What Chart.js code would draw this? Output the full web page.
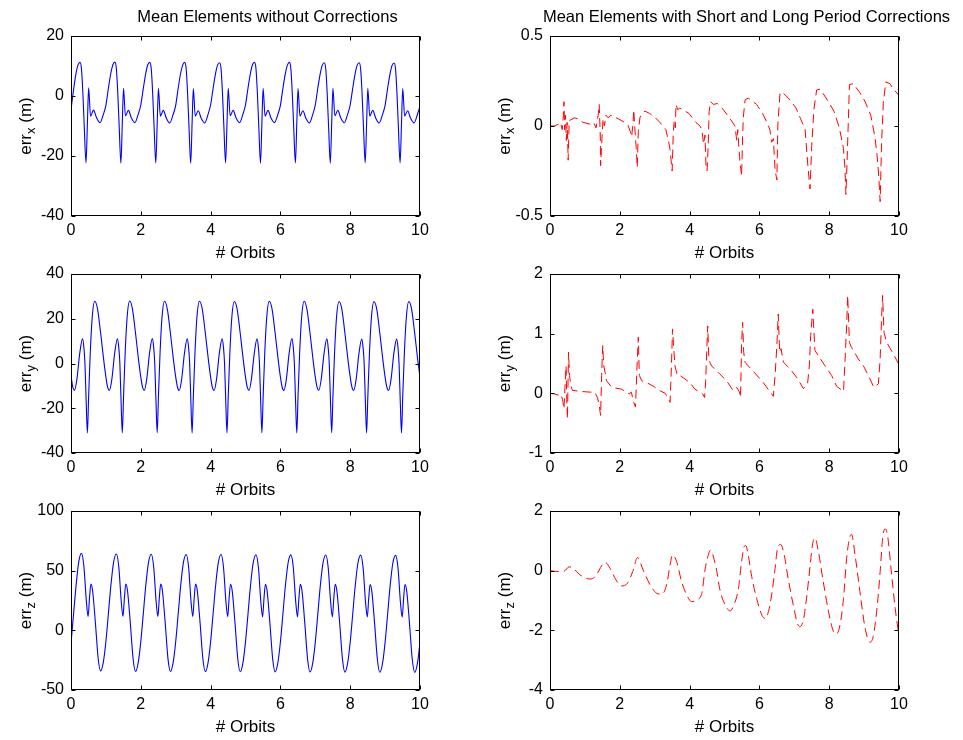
<!DOCTYPE html>
<html>
<head>
<meta charset="utf-8">
<script src="https://cdn.jsdelivr.net/npm/chart.js@4.4.1/dist/chart.umd.min.js"></script>
<style>
  html, body { margin: 0; padding: 0; background: #fff; }
  body { width: 963px; height: 740px; position: relative; overflow: hidden; }
  canvas { position: absolute; }
</style>
</head>
<body>
<canvas id="c1"></canvas>
<canvas id="c2"></canvas>
<canvas id="c3"></canvas>
<canvas id="c4"></canvas>
<canvas id="c5"></canvas>
<canvas id="c6"></canvas>
<script>
// ---- data (x in orbits, y in metres) ----

// left column: mean elements without corrections
const leftX_x = [
  0,0.07,0.14,0.2,0.26,0.3,0.34,0.38,0.43,0.47,0.505,0.56,0.645,0.73,0.83,0.92,
  1,1.07,1.14,1.2,1.26,1.3,1.34,1.38,1.43,1.47,1.505,1.56,1.645,1.73,1.83,1.92,
  2,2.07,2.14,2.2,2.26,2.3,2.34,2.38,2.43,2.47,2.505,2.56,2.645,2.73,2.83,2.92,
  3,3.07,3.14,3.2,3.26,3.3,3.34,3.38,3.43,3.47,3.505,3.56,3.645,3.73,3.83,3.92,
  4,4.07,4.14,4.2,4.26,4.3,4.34,4.38,4.43,4.47,4.505,4.56,4.645,4.73,4.83,4.92,
  5,5.07,5.14,5.2,5.26,5.3,5.34,5.38,5.43,5.47,5.505,5.56,5.645,5.73,5.83,5.92,
  6,6.07,6.14,6.2,6.26,6.3,6.34,6.38,6.43,6.47,6.505,6.56,6.645,6.73,6.83,6.92,
  7,7.07,7.14,7.2,7.26,7.3,7.34,7.38,7.43,7.47,7.505,7.56,7.645,7.73,7.83,7.92,
  8,8.07,8.14,8.2,8.26,8.3,8.34,8.38,8.43,8.47,8.505,8.56,8.645,8.73,8.83,8.92,
  9,9.07,9.14,9.2,9.26,9.3,9.34,9.38,9.43,9.47,9.505,9.56,9.645,9.73,9.83,9.92,
  10
];
const leftX_y = [
  -4.6,1.8,7.3,10.3,11.2,9.0,1.0,-10.2,-22.3,-9.1,2.7,-6.7,-4.7,-7.2,-8.9,-6.4,
  -3.1,2.5,7.5,10.4,11.3,9.1,1.1,-10.0,-22.4,-9.0,2.6,-6.6,-4.8,-7.3,-8.9,-6.3,
  -3.0,2.4,7.4,10.4,11.2,9.0,1.0,-10.1,-22.3,-9.1,2.6,-6.7,-4.8,-7.3,-9.0,-6.4,
  -3.1,2.5,7.5,10.3,11.2,9.1,1.1,-10.0,-22.4,-9.0,2.5,-6.7,-4.9,-7.4,-9.0,-6.4,
  -3.0,2.4,7.4,10.3,11.1,9.0,1.0,-10.1,-22.3,-9.1,2.6,-6.6,-4.8,-7.3,-8.9,-6.3,
  -3.0,2.5,7.5,10.4,11.2,9.1,1.1,-10.0,-22.4,-9.0,2.6,-6.7,-4.8,-7.3,-8.9,-6.4,
  -3.1,2.4,7.4,10.3,11.2,9.0,1.0,-10.1,-22.3,-9.1,2.5,-6.7,-4.9,-7.4,-9.0,-6.4,
  -3.0,2.5,7.4,10.3,11.1,9.0,1.0,-10.0,-22.4,-9.0,2.6,-6.6,-4.8,-7.3,-8.9,-6.3,
  -3.0,2.4,7.4,10.3,11.1,8.9,0.9,-10.1,-22.3,-9.1,2.6,-6.7,-4.8,-7.3,-9.0,-6.4,
  -3.1,2.4,7.3,10.2,11.0,8.9,0.9,-10.1,-22.3,-9.1,2.5,-6.7,-4.9,-7.4,-9.0,-6.4,
  -3.4
];

const leftY_x = [
  0,0.05,0.1,0.17,0.25,0.33,0.37,0.4,0.435,0.47,0.505,0.55,0.61,0.68,0.76,0.85,0.93,
  1,1.05,1.1,1.17,1.25,1.33,1.37,1.4,1.435,1.47,1.505,1.55,1.61,1.68,1.76,1.85,1.93,
  2,2.05,2.1,2.17,2.25,2.33,2.37,2.4,2.435,2.47,2.505,2.55,2.61,2.68,2.76,2.85,2.93,
  3,3.05,3.1,3.17,3.25,3.33,3.37,3.4,3.435,3.47,3.505,3.55,3.61,3.68,3.76,3.85,3.93,
  4,4.05,4.1,4.17,4.25,4.33,4.37,4.4,4.435,4.47,4.505,4.55,4.61,4.68,4.76,4.85,4.93,
  5,5.05,5.1,5.17,5.25,5.33,5.37,5.4,5.435,5.47,5.505,5.55,5.61,5.68,5.76,5.85,5.93,
  6,6.05,6.1,6.17,6.25,6.33,6.37,6.4,6.435,6.47,6.505,6.55,6.61,6.68,6.76,6.85,6.93,
  7,7.05,7.1,7.17,7.25,7.33,7.37,7.4,7.435,7.47,7.505,7.55,7.61,7.68,7.76,7.85,7.93,
  8,8.05,8.1,8.17,8.25,8.33,8.37,8.4,8.435,8.47,8.505,8.55,8.61,8.68,8.76,8.85,8.93,
  9,9.05,9.1,9.17,9.25,9.33,9.37,9.4,9.435,9.47,9.505,9.55,9.61,9.68,9.76,9.85,9.93,
  10
];
const leftY_y = [
  -5.4,-10.5,-12.0,-7.0,4.5,11.0,7.0,0.0,-17.0,-31.0,-15.0,4.0,21.0,27.8,24.4,13.5,2.5,
  -6.0,-10.6,-12.1,-7.1,4.4,11.0,7.0,0.1,-17.1,-31.0,-15.1,4.0,21.0,27.9,24.4,13.4,2.4,
  -6.1,-10.6,-12.0,-7.0,4.5,11.1,7.1,0.0,-17.0,-30.9,-15.0,4.1,21.1,27.8,24.3,13.4,2.4,
  -6.0,-10.5,-12.1,-7.1,4.4,11.0,7.0,0.0,-17.1,-31.1,-15.1,4.0,21.0,27.8,24.4,13.5,2.5,
  -6.0,-10.6,-12.1,-7.0,4.5,11.0,7.0,0.0,-17.0,-31.0,-15.0,4.0,21.0,27.7,24.3,13.4,2.4,
  -6.1,-10.6,-12.0,-7.0,4.4,11.0,7.0,0.1,-17.0,-31.0,-15.1,4.0,21.0,27.8,24.4,13.5,2.5,
  -6.0,-10.5,-12.1,-7.1,4.5,11.1,7.1,0.0,-17.1,-31.0,-15.0,4.1,21.0,27.8,24.3,13.4,2.4,
  -6.1,-10.6,-12.0,-7.0,4.4,11.0,7.0,0.0,-17.0,-30.9,-15.0,4.0,21.0,27.7,24.3,13.4,2.4,
  -6.0,-10.6,-12.1,-7.1,4.4,10.9,6.9,0.0,-17.1,-31.0,-15.1,4.0,20.9,27.7,24.3,13.4,2.4,
  -6.1,-10.6,-12.1,-7.1,4.4,10.9,6.9,-0.1,-17.1,-31.0,-15.1,3.9,20.9,27.7,24.2,13.3,2.3,
  -6.0
];

const leftZ_x = [
  0,0.07,0.14,0.22,0.3,0.37,0.44,0.49,0.53,0.57,0.62,0.7,0.78,0.85,0.93,
  1,1.07,1.14,1.22,1.3,1.37,1.44,1.49,1.53,1.57,1.62,1.7,1.78,1.85,1.93,
  2,2.07,2.14,2.22,2.3,2.37,2.44,2.49,2.53,2.57,2.62,2.7,2.78,2.85,2.93,
  3,3.07,3.14,3.22,3.3,3.37,3.44,3.49,3.53,3.57,3.62,3.7,3.78,3.85,3.93,
  4,4.07,4.14,4.22,4.3,4.37,4.44,4.49,4.53,4.57,4.62,4.7,4.78,4.85,4.93,
  5,5.07,5.14,5.22,5.3,5.37,5.44,5.49,5.53,5.57,5.62,5.7,5.78,5.85,5.93,
  6,6.07,6.14,6.22,6.3,6.37,6.44,6.49,6.53,6.57,6.62,6.7,6.78,6.85,6.93,
  7,7.07,7.14,7.22,7.3,7.37,7.44,7.49,7.53,7.57,7.62,7.7,7.78,7.85,7.93,
  8,8.07,8.14,8.22,8.3,8.37,8.44,8.49,8.53,8.57,8.62,8.7,8.78,8.85,8.93,
  9,9.07,9.14,9.22,9.3,9.37,9.44,9.49,9.53,9.57,9.62,9.7,9.78,9.85,9.93,
  10
];
const leftZ_y = [
  -11.0,12.5,36.0,57.0,64.5,53.5,24.5,11.5,27.0,38.8,33.0,6.0,-24.0,-34.0,-26.0,
  -9.4,13.5,36.8,57.0,64.0,53.0,24.0,11.6,27.0,38.8,33.0,6.0,-24.0,-34.4,-26.4,
  -9.5,13.4,36.7,56.8,63.8,52.9,24.0,11.5,26.9,38.7,33.0,5.9,-24.1,-34.5,-26.5,
  -9.6,13.3,36.6,56.7,63.6,52.8,23.9,11.4,26.9,38.7,32.9,5.8,-24.2,-34.6,-26.6,
  -9.6,13.3,36.5,56.6,63.5,52.7,23.8,11.4,26.8,38.6,32.9,5.8,-24.2,-34.7,-26.6,
  -9.7,13.2,36.4,56.5,63.4,52.6,23.7,11.3,26.8,38.6,32.8,5.7,-24.3,-34.8,-26.7,
  -9.8,13.1,36.3,56.4,63.2,52.5,23.6,11.3,26.7,38.5,32.8,5.6,-24.4,-34.9,-26.8,
  -9.9,13.0,36.2,56.3,63.1,52.4,23.5,11.2,26.7,38.5,32.7,5.5,-24.5,-35.0,-26.9,
  -10.0,12.9,36.1,56.2,63.0,52.3,23.4,11.2,26.6,38.4,32.7,5.4,-24.6,-35.1,-27.0,
  -10.1,12.8,36.0,56.0,62.8,52.2,23.3,11.1,26.6,38.4,32.6,5.3,-24.7,-35.2,-27.1,
  -10.2
];

// right column: with short and long period corrections
const rightX_x = [
  0,0.12,0.24,0.3,0.35,0.38,0.4,0.42,0.44,0.47,0.49,0.51,0.52,0.55,0.6,0.7,0.8,0.95,
  1.15,1.25,1.32,1.38,1.41,1.44,1.45,1.48,1.52,1.56,1.6,1.67,1.74,1.96,
  2.22,2.3,2.34,2.38,2.4,2.44,2.47,2.5,2.53,2.58,2.72,2.85,3.0,
  3.15,3.23,3.32,3.4,3.44,3.5,3.53,3.56,3.59,3.61,3.66,3.72,3.98,
  4.18,4.3,4.35,4.4,4.44,4.47,4.5,4.53,4.56,4.6,4.68,4.8,4.97,
  5.16,5.3,5.35,5.38,5.43,5.49,5.52,5.54,5.59,5.68,5.92,
  6.09,6.23,6.3,6.35,6.4,6.45,6.5,6.53,6.59,6.64,6.83,
  7.05,7.18,7.31,7.36,7.4,7.45,7.5,7.56,7.64,7.74,7.98,
  8.14,8.29,8.41,8.45,8.48,8.52,8.58,8.69,8.88,
  9.03,9.19,9.31,9.37,9.42,9.46,9.5,9.55,9.62,9.74,9.82,10
];
const rightX_y = [
  0,0.0,0.01,0.02,-0.02,0.05,0.135,-0.02,0.06,-0.08,0.02,-0.105,-0.19,0.03,0.035,0.045,0.04,0.02,
  0.01,0.02,-0.01,0.06,0.12,-0.05,-0.22,-0.1,0.04,0.0,0.06,0.045,0.06,0.04,
  0.01,-0.03,-0.06,0.02,0.09,-0.04,-0.12,-0.23,-0.03,0.05,0.083,0.07,0.05,
  0.02,0.0,-0.02,-0.09,-0.13,-0.25,-0.05,0.03,-0.01,0.12,0.09,0.1,0.07,
  0.02,0.0,-0.02,-0.1,-0.05,-0.22,-0.25,-0.12,0.08,0.135,0.12,0.125,0.09,
  0.04,0.0,-0.08,-0.02,-0.17,-0.28,-0.05,0.05,0.145,0.155,0.12,
  0.07,0.015,-0.02,-0.09,-0.07,-0.245,-0.3,0.015,0.18,0.19,0.155,
  0.1,0.04,-0.02,-0.15,-0.245,-0.35,-0.11,0.09,0.2,0.205,0.135,
  0.08,-0.01,-0.125,-0.23,-0.38,-0.15,0.23,0.235,0.185,
  0.135,0.06,-0.06,-0.16,-0.28,-0.42,-0.1,0.125,0.245,0.235,0.21,0.17
];

const rightY_x = [
  0,0.12,0.24,0.3,0.36,0.4,0.43,0.46,0.48,0.5,0.53,0.56,0.59,0.64,0.91,
  1.15,1.28,1.36,1.41,1.45,1.48,1.51,1.54,1.58,1.62,1.77,2.05,
  2.27,2.33,2.4,2.45,2.49,2.53,2.56,2.63,2.77,2.96,
  3.15,3.3,3.38,3.44,3.48,3.51,3.54,3.58,3.65,3.72,4.01,
  4.15,4.37,4.43,4.46,4.49,4.52,4.55,4.58,4.63,4.87,
  5.06,5.25,5.35,5.43,5.46,5.49,5.52,5.55,5.59,5.71,5.87,
  6.11,6.26,6.4,6.45,6.5,6.54,6.58,6.62,6.69,6.88,
  7.09,7.26,7.38,7.43,7.47,7.53,7.59,7.69,7.88,
  8.07,8.21,8.41,8.45,8.5,8.53,8.58,8.64,8.83,
  9.0,9.17,9.28,9.41,9.46,9.5,9.53,9.57,9.65,9.82,10
];
const rightY_y = [
  0,-0.01,-0.03,-0.01,-0.1,-0.26,0.1,0.46,-0.1,-0.43,0.69,0.3,0.16,0.05,0.03,
  0.02,0.02,-0.07,-0.2,-0.37,0.3,0.8,0.46,0.35,0.21,0.1,0.07,
  -0.01,0.02,-0.15,-0.23,0.4,0.94,0.3,0.21,0.18,0.12,
  0.045,0.0,-0.07,-0.15,0.46,1.08,0.8,0.46,0.3,0.3,0.18,
  0.07,-0.01,-0.07,0.2,0.69,1.13,0.6,0.52,0.46,0.32,
  0.21,0.045,0.1,0.02,-0.07,0.85,1.19,0.69,0.52,0.44,0.34,
  0.18,0.06,-0.05,0.3,0.8,1.33,0.69,0.75,0.52,0.41,
  0.25,0.08,0.16,0.46,0.97,1.41,0.72,0.63,0.46,
  0.3,0.12,0.03,0.52,1.13,1.64,0.85,0.77,0.58,
  0.44,0.24,0.1,0.16,0.58,1.25,1.64,1.02,0.85,0.68,0.48
];

const rightZ_x = [
  0,0.24,0.4,0.55,0.67,0.8,0.91,1.15,1.29,1.41,1.5,1.58,1.72,1.89,
  2.05,2.22,2.37,2.51,2.67,2.87,3.06,3.2,3.34,3.44,3.51,3.63,3.77,3.92,
  4.06,4.2,4.35,4.44,4.51,4.6,4.73,4.78,4.87,5.02,5.16,5.27,5.4,5.49,5.56,5.61,5.68,5.78,5.92,
  6.07,6.16,6.26,6.35,6.45,6.51,6.61,6.71,6.83,6.97,
  7.09,7.16,7.26,7.35,7.45,7.52,7.59,7.69,7.83,7.98,
  8.12,8.2,8.31,8.41,8.5,8.58,8.64,8.74,8.88,
  9.03,9.17,9.26,9.36,9.46,9.53,9.6,9.67,9.79,9.89,10
];
const rightZ_y = [
  0,-0.03,-0.02,0.13,0.08,-0.08,-0.18,-0.28,-0.2,0.02,0.2,0.28,0.08,-0.31,
  -0.51,-0.42,-0.03,0.44,0.02,-0.48,-0.76,-0.79,-0.48,0.19,0.53,0.3,-0.37,-0.82,
  -1.04,-0.98,-0.76,0.02,0.41,0.69,0.25,-0.03,-0.65,-1.15,-1.35,-1.15,-0.59,0.3,0.8,0.84,0.53,-0.2,-0.93,
  -1.49,-1.6,-1.37,-0.82,0.08,0.69,0.88,0.53,-0.31,-1.15,
  -1.77,-1.88,-1.65,-0.93,0.13,0.86,1.1,0.64,-0.37,-1.37,
  -2.04,-2.13,-1.82,-0.93,0.41,1.08,1.22,0.53,-0.7,
  -1.93,-2.4,-2.21,-1.37,-0.03,1.08,1.4,1.2,-0.15,-1.26,-2.2
];

const xTicks = [0, 2, 4, 6, 8, 10];
const titles = ['Mean Elements without Corrections', 'Mean Elements with Short and Long Period Corrections'];

// ---- drawing ----
const FONT = "'Liberation Sans', Arial, Helvetica, sans-serif";
Chart.defaults.font.family = FONT;
Chart.defaults.font.size = 16;
Chart.defaults.color = '#000';

// MATLAB style box: frame, inward ticks on all four sides, y label with subscript, title
const matlabBox = {
    id: 'matlabBox',
    afterDraw(chart, args, opts) {
        const {ctx, chartArea: a, scales} = chart;
        ctx.save();
        ctx.strokeStyle = '#000';
        ctx.lineWidth = 1;
        const l = Math.round(a.left) + 0.5, r = Math.round(a.right) - 0.5;
        const t = Math.round(a.top) + 0.5, b = Math.round(a.bottom) - 0.5;
        ctx.strokeRect(l, t, r - l, b - t);
        const tl = 4;
        ctx.beginPath();
        scales.x.ticks.forEach(tk => {
            const px = Math.round(scales.x.getPixelForValue(tk.value)) + 0.5;
            ctx.moveTo(px, b); ctx.lineTo(px, b - tl);
            ctx.moveTo(px, t); ctx.lineTo(px, t + tl);
        });
        scales.y.ticks.forEach(tk => {
            const py = Math.round(scales.y.getPixelForValue(tk.value)) + 0.5;
            ctx.moveTo(l, py); ctx.lineTo(l + tl, py);
            ctx.moveTo(r, py); ctx.lineTo(r - tl, py);
        });
        ctx.stroke();

        // y label: err_? (m)
        ctx.fillStyle = '#000';
        ctx.translate(a.left - 46, (a.top + a.bottom) / 2);
        ctx.rotate(-Math.PI / 2);
        const f1 = '17px ' + FONT, f2 = '13px ' + FONT;
        ctx.font = f1;
        const w1 = ctx.measureText('err').width;
        const w3 = ctx.measureText(' (m)').width;
        ctx.font = f2;
        const w2 = ctx.measureText(opts.sub).width;
        let x = -(w1 + w2 + w3) / 2;
        ctx.textAlign = 'left';
        ctx.textBaseline = 'alphabetic';
        ctx.font = f1; ctx.fillText('err', x, 6); x += w1;
        ctx.font = f2; ctx.fillText(opts.sub, x, 10); x += w2;
        ctx.font = f1; ctx.fillText(' (m)', x, 6);
        ctx.restore();

        if (opts.title) {
            ctx.save();
            ctx.fillStyle = '#000';
            ctx.font = '16.5px ' + FONT;
            ctx.textAlign = 'center';
            ctx.textBaseline = 'middle';
            ctx.fillText(opts.title, (a.left + a.right) / 2 + 22, 17);
            ctx.restore();
        }
    }
};

function makePanel(p) {
    const cv = document.getElementById(p.id);
    cv.width = p.cw; cv.height = p.ch;
    cv.style.left = p.cl + 'px'; cv.style.top = p.ct + 'px';
    cv.style.width = p.cw + 'px'; cv.style.height = p.ch + 'px';
    const yw = p.L - p.cl;               // room for y tick labels + label
    const xh = p.ct + p.ch - p.B;        // room for x tick labels + title
    const titlePad = xh - 37 - 10.2;     // puts "# Orbits" ~37px under the axis
    new Chart(cv, {
        type: 'line',
        data: {
            datasets: [{
                data: p.xs.map((x, i) => ({x: x, y: p.ys[i]})),
                borderColor: p.color,
                borderWidth: p.lw,
                borderDash: p.dash,
                pointRadius: 0,
                fill: false,
                tension: 0,
                cubicInterpolationMode: p.mono ? 'monotone' : 'default'
            }]
        },
        options: {
            responsive: false,
            animation: false,
            events: [],
            layout: {padding: {left: 0, top: p.T - p.ct, right: p.cl + p.cw - p.R, bottom: 0}},
            plugins: {
                legend: {display: false},
                tooltip: {enabled: false},
                matlabBox: {sub: p.sub, title: p.title}
            },
            scales: {
                x: {
                    type: 'linear', min: 0, max: 10,
                    grid: {display: false, drawTicks: false},
                    border: {display: false},
                    afterBuildTicks: s => { s.ticks = xTicks.map(v => ({value: v})); },
                    ticks: {padding: 5, autoSkip: false, maxRotation: 0, color: '#000',
                            callback: v => String(v)},
                    title: {display: true, text: '# Orbits', color: '#000', font: {size: 17},
                            padding: {top: 0, bottom: titlePad}},
                    afterFit: s => { s.height = xh; }
                },
                y: {
                    type: 'linear', min: p.ymin, max: p.ymax,
                    grid: {display: false, drawTicks: false},
                    border: {display: false},
                    afterBuildTicks: s => { s.ticks = p.yTicks.map(v => ({value: v})); },
                    ticks: {padding: 7, autoSkip: false, color: '#000',
                            callback: v => String(v)},
                    afterFit: s => { s.width = yw; }
                }
            }
        },
        plugins: [matlabBox]
    });
}

const BLUE = '#0000ff', RED = '#ff0000';
const DASH = [9, 5];
const rows = [
    {ct: 0,   ch: 270, T: 36,  B: 216},
    {ct: 250, ch: 260, T: 274, B: 453},
    {ct: 490, ch: 250, T: 511, B: 690}
];
const leftCol  = {cl: 0,   cw: 440, L: 71,  R: 420};
const rightCol = {cl: 470, cw: 493, L: 550, R: 899};

makePanel(Object.assign({id: 'c1', xs: leftX_x, ys: leftX_y, color: BLUE, lw: 1.1, dash: [], mono: true,
    ymin: -40, ymax: 20, yTicks: [-40, -20, 0, 20], sub: 'x', title: titles[0]}, rows[0], leftCol));
makePanel(Object.assign({id: 'c2', xs: leftY_x, ys: leftY_y, color: BLUE, lw: 1.1, dash: [], mono: true,
    ymin: -40, ymax: 40, yTicks: [-40, -20, 0, 20, 40], sub: 'y'}, rows[1], leftCol));
makePanel(Object.assign({id: 'c3', xs: leftZ_x, ys: leftZ_y, color: BLUE, lw: 1.1, dash: [], mono: true,
    ymin: -50, ymax: 100, yTicks: [-50, 0, 50, 100], sub: 'z'}, rows[2], leftCol));
makePanel(Object.assign({id: 'c4', xs: rightX_x, ys: rightX_y, color: RED, lw: 1, dash: DASH, mono: false,
    ymin: -0.5, ymax: 0.5, yTicks: [-0.5, 0, 0.5], sub: 'x', title: titles[1]}, rows[0], rightCol));
makePanel(Object.assign({id: 'c5', xs: rightY_x, ys: rightY_y, color: RED, lw: 1, dash: DASH, mono: false,
    ymin: -1, ymax: 2, yTicks: [-1, 0, 1, 2], sub: 'y'}, rows[1], rightCol));
makePanel(Object.assign({id: 'c6', xs: rightZ_x, ys: rightZ_y, color: RED, lw: 1, dash: DASH, mono: true,
    ymin: -4, ymax: 2, yTicks: [-4, -2, 0, 2], sub: 'z'}, rows[2], rightCol));
</script>
</body>
</html>
